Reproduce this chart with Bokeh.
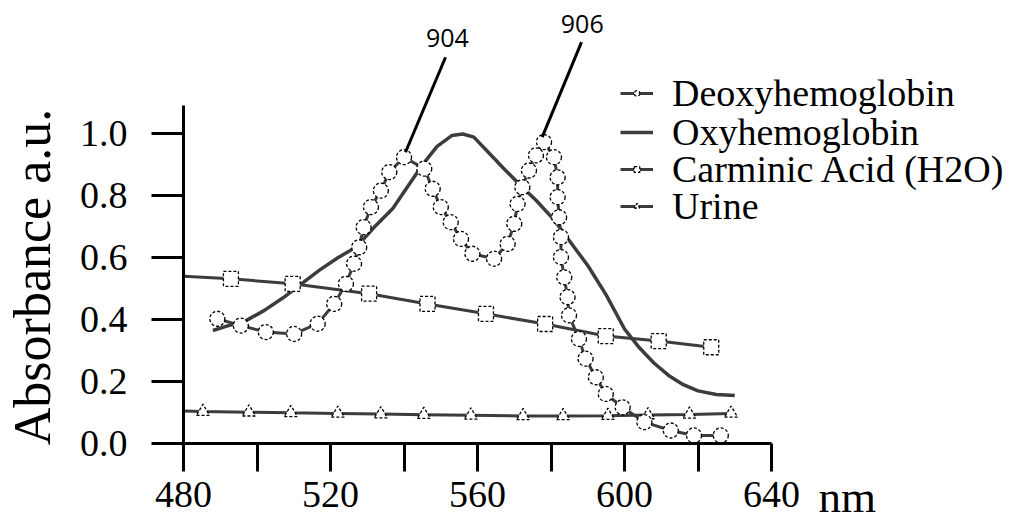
from math import pi
from bokeh.plotting import figure
from bokeh.models import (LinearAxis, FixedTicker, PrintfTickFormatter, Range1d,
                          Legend, LegendItem, Label)
from bokeh.embed import file_html
from bokeh.resources import INLINE

# ---------------- data ----------------
deoxy_nm = [489.2, 495.6, 502.4, 510.1, 516.5, 521.0, 524.2, 526.4, 527.8, 529.0,
            531.0, 533.7, 536.0, 540.0, 545.5, 547.8, 550.0, 552.7, 555.5, 558.6,
            564.5, 568.2, 570.0, 570.9, 572.2, 574.0, 575.9, 578.1, 580.8, 581.8,
            581.8, 582.2, 582.7, 582.7, 583.6, 584.5, 584.9, 587.6, 589.4, 592.2,
            594.9, 599.5, 605.4, 612.6, 618.9, 626.2]
deoxy_abs = [0.403, 0.381, 0.360, 0.354, 0.387, 0.451, 0.516, 0.581, 0.634, 0.699,
             0.764, 0.817, 0.877, 0.925, 0.888, 0.823, 0.764, 0.715, 0.661, 0.613,
             0.597, 0.645, 0.710, 0.774, 0.828, 0.882, 0.931, 0.974, 0.925, 0.860,
             0.796, 0.731, 0.667, 0.602, 0.537, 0.473, 0.414, 0.338, 0.274, 0.214,
             0.160, 0.117, 0.069, 0.042, 0.026, 0.026]

oxy_nm = [488, 492, 497, 502, 507, 512, 517, 522, 527, 532, 537, 541, 545, 549, 553,
          556, 559, 563, 567, 572, 576, 581, 585, 590, 595, 600, 604, 608, 612, 616,
          620, 625, 630]
oxy_abs = [0.365, 0.380, 0.397, 0.430, 0.470, 0.515, 0.560, 0.600, 0.635, 0.700,
           0.760, 0.830, 0.900, 0.960, 0.995, 1.000, 0.990, 0.940, 0.890, 0.830,
           0.785, 0.720, 0.655, 0.575, 0.480, 0.370, 0.310, 0.260, 0.220, 0.190,
           0.170, 0.158, 0.155]

carminic_nm = [480, 492.9, 509.7, 530.5, 546.4, 562.3, 578.4, 594.9, 609.3, 623.6]
carminic_abs = [0.540, 0.532, 0.516, 0.484, 0.451, 0.419, 0.386, 0.347, 0.331, 0.311]

urine_nm = [480, 485.3, 497.8, 509.2, 522.0, 533.7, 545.4, 558.2, 572.4, 583.3,
            595.5, 606.4, 617.7, 629.0]
urine_abs = [0.105, 0.103, 0.101, 0.099, 0.097, 0.095, 0.093, 0.091, 0.089, 0.089,
             0.090, 0.092, 0.094, 0.097]

series_names = ["Deoxyhemoglobin", "Oxyhemoglobin", "Carminic Acid (H2O)", "Urine"]

x_ticks = [480, 500, 520, 540, 560, 580, 600, 620, 640]
x_tick_labels = ["480", "", "520", "", "560", "", "600", "", "640"]
y_ticks = [0.0, 0.2, 0.4, 0.6, 0.8, 1.0]

annot_text = ["904", "906"]
annot_x = [551.8, 588.5]
annot_y = [1.31, 1.354]
leader_x0 = [551.3, 588.3]
leader_y0 = [1.248, 1.297]
leader_x1 = [540.4, 577.6]
leader_y1 = [0.941, 0.990]

# ---------------- figure ----------------
SERIF = "Liberation Serif"
W, H = 1009, 519
p = figure(width=W, height=H, output_backend="svg", toolbar_location=None,
           x_axis_type=None, y_axis_type=None,
           x_range=Range1d(430.20, 704.76), y_range=Range1d(-0.2456, 1.4313),
           min_border_left=0, min_border_right=0, min_border_top=0, min_border_bottom=0)
p.outline_line_color = None
p.background_fill_color = "white"
p.border_fill_color = "white"

xaxis = LinearAxis(fixed_location=0, bounds=(480, 640),
                   ticker=FixedTicker(ticks=x_ticks),
                   major_label_overrides={t: l for t, l in zip(x_ticks, x_tick_labels)})
xaxis.axis_line_width = 3
xaxis.major_tick_line_width = 3
xaxis.major_tick_out = 28
xaxis.major_tick_in = 0
xaxis.minor_tick_out = 0
xaxis.minor_tick_in = 0
xaxis.major_label_standoff = 11
xaxis.major_label_text_font = SERIF
xaxis.major_label_text_font_size = "38px"
xaxis.major_label_text_color = "black"
p.add_layout(xaxis, "below")

yaxis = LinearAxis(fixed_location=480, bounds=(0, 1.092),
                   ticker=FixedTicker(ticks=y_ticks),
                   formatter=PrintfTickFormatter(format="%.1f"))
yaxis.axis_line_width = 3
yaxis.major_tick_line_width = 3
yaxis.major_tick_out = 32
yaxis.major_tick_in = 0
yaxis.minor_tick_out = 0
yaxis.minor_tick_in = 0
yaxis.major_label_standoff = 24
yaxis.major_label_text_font = SERIF
yaxis.major_label_text_font_size = "38px"
yaxis.major_label_text_color = "black"
p.add_layout(yaxis, "left")

LINE_C = "#3c3c3c"
MK = dict(line_color="black", line_width=1.3, line_dash="3 2", fill_color="white")

r_deoxy_l = p.line(deoxy_nm, deoxy_abs, line_color=LINE_C, line_width=3)
r_oxy_l = p.line(oxy_nm, oxy_abs, line_color=LINE_C, line_width=3.5)
r_carm_l = p.line(carminic_nm, carminic_abs, line_color=LINE_C, line_width=3)
r_urine_l = p.line(urine_nm, urine_abs, line_color=LINE_C, line_width=3)

r_urine_m = p.scatter(urine_nm[1:], urine_abs[1:], marker="triangle", size=13, **MK)
r_carm_m = p.scatter(carminic_nm[1:], carminic_abs[1:], marker="square", size=15, **MK)
r_deoxy_m = p.scatter(deoxy_nm, deoxy_abs, marker="circle", size=15, **MK)

p.segment(leader_x0, leader_y0, leader_x1, leader_y1, line_color="black", line_width=3)

for t, x, y in zip(annot_text, annot_x, annot_y):
    p.add_layout(Label(x=x, y=y, text=t, text_align="center", text_baseline="middle",
                       text_font="Open Sans", text_font_size="25px", text_color="black"))

p.add_layout(Label(x=438.8, y=0.538, text="Absorbance a.u.", angle=pi / 2,
                   text_align="center", text_baseline="middle",
                   text_font=SERIF, text_font_size="52px", text_color="black"))
p.add_layout(Label(x=652.8, y=-0.1720, text="nm", text_align="left",
                   text_baseline="alphabetic",
                   text_font=SERIF, text_font_size="45px", text_color="black"))

# one single-row legend per series so the rows sit as tightly as in the reference
legend_rows = [
    (series_names[0], [r_deoxy_l, r_deoxy_m], 404),
    (series_names[1], [r_oxy_l], 365),
    (series_names[2], [r_carm_l, r_carm_m], 328),
    (series_names[3], [r_urine_l, r_urine_m], 291),
]
for name, rends, ly in legend_rows:
    lg = Legend(items=[LegendItem(label=name, renderers=rends)], location=(620, ly))
    lg.label_text_font = SERIF
    lg.label_text_font_size = "38px"
    lg.label_text_color = "black"
    lg.glyph_width = 33
    lg.glyph_height = 14
    lg.label_standoff = 19
    lg.spacing = 0
    lg.padding = 0
    lg.margin = 0
    lg.background_fill_alpha = 0
    lg.border_line_alpha = 0
    p.add_layout(lg)

open("out.html", "w").write(file_html(p, INLINE))
